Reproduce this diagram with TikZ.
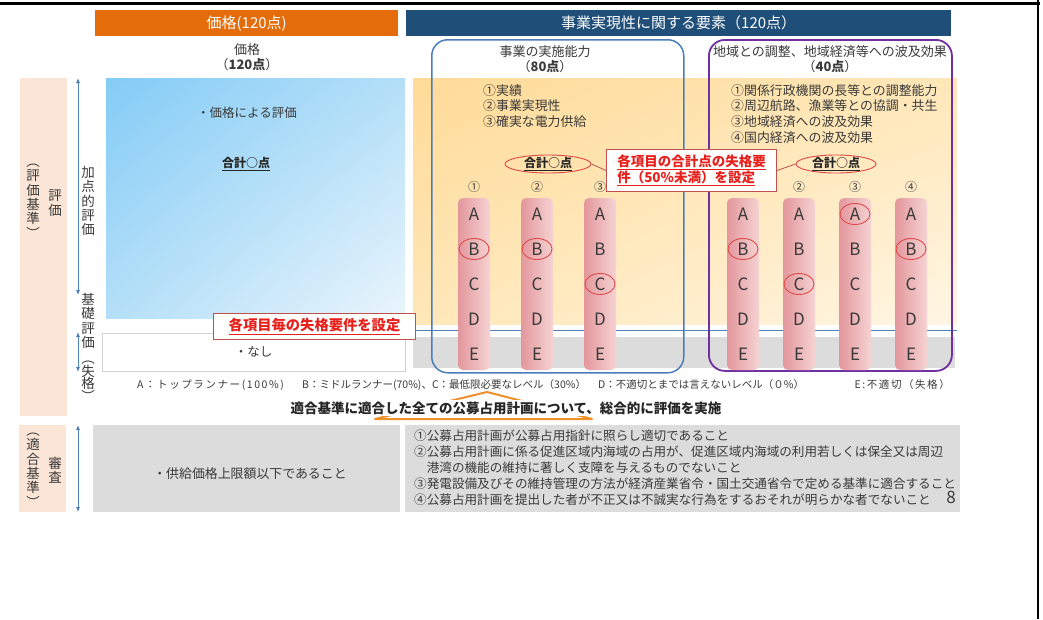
\documentclass[tikz,border=0pt]{standalone}
\usepackage{fontspec}
\setmainfont{Noto Sans CJK JP}
\newfontfamily\lsfont{Noto Sans CJK JP}[LetterSpace=15]
\usetikzlibrary{shapes.geometric,arrows.meta,shadings}
\definecolor{hdrOrange}{HTML}{E46C0A}
\definecolor{hdrNavy}{HTML}{1F4E79}
\definecolor{peach}{HTML}{FBE5D6}
\definecolor{axisBlue}{HTML}{4F81BD}
\definecolor{grpBlue}{HTML}{4A7EBB}
\definecolor{grpPurple}{HTML}{7030A0}
\definecolor{calRed}{HTML}{E8201C}
\definecolor{calBorder}{HTML}{C0504D}
\definecolor{ringRed}{HTML}{E04848}
\definecolor{grayBand}{HTML}{DCDCDC}
\definecolor{txt}{HTML}{3A3A3A}
\definecolor{pilL}{HTML}{E3979C}
\definecolor{pilR}{HTML}{F6D3D3}
\definecolor{bluA}{HTML}{84CCF6}
\definecolor{bluB}{HTML}{B4DFF8}
\definecolor{bluC}{HTML}{EAF5FC}
\definecolor{yelA}{HTML}{FFDB98}
\definecolor{yelB}{HTML}{FFE7B8}
\definecolor{yelC}{HTML}{FFF6E4}
\definecolor{arrOrange}{HTML}{F0902A}
\newcommand\fsz[2]{\fontsize{#1pt}{#2pt}\selectfont}
\begin{document}
\begin{tikzpicture}[x=1pt,y=-1pt,
  every node/.style={inner sep=0pt, text=txt},
  hdrbox/.style={minimum height=26pt, text=white, font=\fsz{15}{17}},
  titletext/.style={align=center, font=\fsz{13}{14.5}},
  itemtext/.style={align=left, anchor=north west, font=\fsz{12.9}{15.7}},
  vtext/.style={align=center, font=\fsz{13.5}{14.4}},
  axisarrow/.style={draw=axisBlue, line width=0.8pt, {Latex[length=5pt,width=4pt]}-{Latex[length=5pt,width=4pt]}},
  pillar/.style={rounded corners=5pt, minimum width=32pt, minimum height=172pt, left color=pilL, right color=pilR},
  lettertext/.style={font=\fsz{17}{17}},
  numtext/.style={font=\fsz{12}{12}},
  ringmark/.style={draw=ringRed, ellipse, line width=0.9pt, minimum width=30pt, minimum height=21pt},
  sumtext/.style={font=\fsz{12}{12}\bfseries, text=black!85},
  calline/.style={draw=calBorder, line width=0.8pt},
  legendtext/.style={anchor=west, font=\fsz{10.5}{12}},
]
\useasboundingbox (0,0) rectangle (1043,619);
\fill[white] (0,0) rectangle (1043,619);

% frame lines
\draw[line width=3pt] (0,3) -- (1040,3);
\draw[line width=2pt] (1038,0) -- (1038,619);

% headers
\node[hdrbox, fill=hdrOrange, minimum width=303pt, anchor=north west] (hPrice) at (95,10) {価格(120点)};
\node[hdrbox, fill=hdrNavy, minimum width=545pt, anchor=north west] (hBiz) at (406,10) {事業実現性に関する要素（120点）};

% titles
\node[titletext] (tPrice) at (247,57) {価格\\（\textbf{120点}）};
\node[titletext] (tA) at (545,59) {事業の実施能力\\（\textbf{80点}）};
\node[titletext] (tB) at (830,59) {地域との調整、地域経済等への波及効果\\（\textbf{40点}）};

% left peach columns
\fill[peach] (20,78) rectangle (67,416);
\fill[peach] (19,425) rectangle (66,512);

% backgrounds
\shade[upper left=bluA, upper right=bluB, lower left=bluB, lower right=bluC] (106,78) rectangle (405,318);
\shade[upper left=yelA, upper right=yelB, lower left=yelB, lower right=yelC] (413,78) rectangle (957,324);
\fill[grayBand] (413,337) rectangle (955,368);
\draw[axisBlue, line width=0.8pt] (405,330) -- (957,330);
\node[draw=gray!35, fill=white, minimum width=303pt, minimum height=38pt, anchor=north west, font=\fsz{12.5}{14}] (nashi) at (102,333) {・なし};

% axis arrows
\coordinate (a1t) at (78,78);  \coordinate (a1b) at (78,295);
\coordinate (a2t) at (78,332); \coordinate (a2b) at (78,372);
\coordinate (a3t) at (78,425); \coordinate (a3b) at (78,512);
\draw[axisarrow] (a1t) -- (a1b);
\draw[axisarrow] (a2t) -- (a2b);
\draw[axisarrow] (a3t) -- (a3b);

% vertical texts
\node[vtext] (vHyoka) at (55,203) {評\\価};
\node[vtext] (vKijun) at (33,201) {︵\\評\\価\\基\\準\\︶};
\node[vtext] (vKaten) at (88,201) {加\\点\\的\\評\\価};
\node[vtext] (vKiso) at (88,321) {基\\礎\\評\\価};
\node[vtext, font=\fsz{13.5}{12.5}] (vShik) at (88,381) {︵\\失\\格\\︶};
\node[vtext] (vShinsa) at (55,470) {審\\査};
\node[vtext] (vTekigo) at (33,470) {︵\\適\\合\\基\\準\\︶};

% price box texts
\node[font=\fsz{12.5}{14}] (pEval) at (247,113) {・価格による評価};
\node[sumtext] (pSum) at (246,164) {\underline{合計○点}};

% group boxes
\node[draw=grpBlue, line width=1.5pt, rounded corners=16pt, minimum width=252pt, minimum height=333pt, anchor=north west] (grpA) at (431,39) {};
\node[draw=grpPurple, line width=1.8pt, rounded corners=16pt, minimum width=243pt, minimum height=331pt, anchor=north west] (grpB) at (708,39) {};

% items
\node[itemtext] (itA) at (483,84) {①実績\\②事業実現性\\③確実な電力供給};
\node[itemtext] (itB) at (731,84) {①関係行政機関の長等との調整能力\\②周辺航路、漁業等との協調・共生\\③地域経済への波及効果\\④国内経済への波及効果};

% sums
\node[ringmark, minimum width=86pt, minimum height=18pt] (sumL) at (548,164) {};
\node[sumtext] (sumLt) at (sumL) {\underline{合計○点}};
\node[ringmark, minimum width=80pt, minimum height=18pt] (sumR) at (836,164) {};
\node[sumtext] (sumRt) at (sumR) {\underline{合計○点}};

% column numbers
\node[numtext] (nL1) at (474,187) {①};
\node[numtext] (nL2) at (537,187) {②};
\node[numtext] (nL3) at (600,187) {③};
\node[numtext] (nR2) at (799,187) {②};
\node[numtext] (nR3) at (855,187) {③};
\node[numtext] (nR4) at (911,187) {④};

% pillars
\foreach \c/\x in {L1/474, L2/537, L3/600, R1/743, R2/799, R3/855, R4/911} {
  \node[pillar] (\c) at (\x,284) {};
  \foreach \l/\y in {A/214,B/249,C/284,D/319,E/354}
    \node[lettertext] (\c\l) at (\x,\y) {\l};
}
\node[ringmark] (rL1) at (L1B) {};
\node[ringmark] (rL2) at (L2B) {};
\node[ringmark] (rL3) at (L3C) {};
\node[ringmark] (rR1) at (R1B) {};
\node[ringmark] (rR2) at (R2C) {};
\node[ringmark] (rR3) at (R3A) {};
\node[ringmark] (rR4) at (R4B) {};

% callouts
\node[draw=calBorder, fill=white, line width=1pt, minimum width=170pt, minimum height=42pt, anchor=north west, text=calRed, align=left, font=\fsz{13.5}{16}\bfseries] (callout) at (606,149) {\underline{各項目の合計点の失格要}\\\underline{件（50\%未満）を設定}};
\draw[calline] (sumL.east) -- (callout.west);
\draw[calline] (callout.east) -- (sumR.west);
\node[draw=calBorder, fill=white, line width=1pt, minimum width=202pt, minimum height=26pt, anchor=north west, text=calRed, font=\fsz{14.3}{16}\bfseries] (disq) at (213,313) {\underline{各項目毎の失格要件を設定}};

% legend
\node[legendtext, font=\fsz{10.5}{12}\lsfont] (lgA) at (137,385) {A：トップランナー(100\%)};
\node[legendtext] (lgBC) at (302,385) {B：ミドルランナー(70\%)、C：最低限必要なレベル（30\%）};
\node[legendtext] (lgD) at (598,385) {D：不適切とまでは言えないレベル（０\%）};
\node[legendtext, anchor=east, font=\fsz{10.5}{12}\lsfont] (lgE) at (950,385) {E:不適切（失格）};

% summary with chevron
\draw[arrOrange, line width=2pt, line join=round] (375,419) -- (487,392) -- (592,419) -- cycle;
\node[fill=white, inner sep=1.5pt, font=\fsz{13.5}{15}\bfseries, text=black!85] (summary) at (506,408) {適合基準に適合した全ての公募占用計画について、総合的に評価を実施};

% bottom boxes
\node[fill=grayBand, minimum width=307pt, minimum height=87pt, anchor=north west] (supplyBox) at (93,425) {};
\node[font=\fsz{12.9}{14}] (supply) at (250,474) {・供給価格上限額以下であること};
\node[fill=grayBand, minimum width=555pt, minimum height=87pt, anchor=north west] (critBox) at (405,425) {};
\node[anchor=north west, align=left, font=\fsz{12.6}{15.8}] (crit) at (414,430) {①公募占用計画が公募占用指針に照らし適切であること\\②公募占用計画に係る促進区域内海域の占用が、促進区域内海域の利用若しくは保全又は周辺\\\hspace*{1em}港湾の機能の維持に著しく支障を与えるものでないこと\\③発電設備及びその維持管理の方法が経済産業省令・国土交通省令で定める基準に適合すること\\④公募占用計画を提出した者が不正又は不誠実な行為をするおそれが明らかな者でないこと};
\node[font=\fsz{17}{17}] (pgno) at (951,497) {8};
\end{tikzpicture}
\end{document}
